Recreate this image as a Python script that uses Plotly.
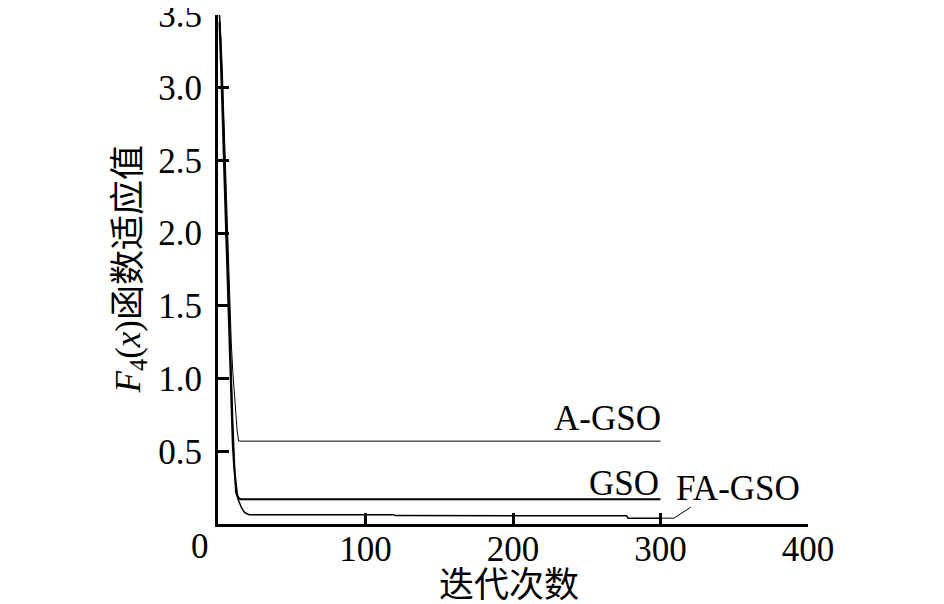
import plotly.graph_objects as go

# iteration counts and fitness values
agso_iter = [1, 2, 3, 4, 5, 6, 7, 8, 9, 10, 11, 12, 13, 14, 300]
agso_val = [3.5, 3.35, 3.1, 2.8, 2.45, 2.1, 1.8, 1.5, 1.25, 1.05, 0.9, 0.75, 0.64, 0.57, 0.57]

gso_iter = [1, 2, 3, 4, 5, 6, 7, 8, 9, 10, 11, 12, 13, 14, 15, 300]
gso_val = [3.45, 3.2, 2.85, 2.5, 2.15, 1.8, 1.45, 1.1, 0.8, 0.55, 0.38, 0.26, 0.2, 0.18, 0.17, 0.17]

fagso_iter = [1, 2, 3, 4, 5, 6, 7, 8, 9, 10, 11, 12, 14, 16, 18, 20, 21, 119, 120, 277, 278, 300]
fagso_val = [3.5, 3.3, 3.0, 2.65, 2.3, 1.95, 1.6, 1.3, 1.0, 0.7, 0.45, 0.22, 0.16, 0.11, 0.08, 0.066, 0.064,
             0.064, 0.058, 0.056, 0.04, 0.04]

x_ticks = [100, 200, 300, 400]
y_ticks = [0.5, 1.0, 1.5, 2.0, 2.5, 3.0, 3.5]

serif = "Liberation Serif"
cjk = "Liberation Serif, Noto Sans CJK SC"
fs = 35

fig = go.Figure()
fig.add_trace(go.Scatter(x=agso_iter, y=agso_val, mode="lines", line=dict(color="black", width=1)))
fig.add_trace(go.Scatter(x=gso_iter, y=gso_val, mode="lines", line=dict(color="black", width=2)))
fig.add_trace(go.Scatter(x=fagso_iter, y=fagso_val, mode="lines", line=dict(color="black", width=1.5)))

# curve labels
fig.add_annotation(x=300, y=0.57, text="A-GSO", showarrow=False, xanchor="right", yanchor="bottom",
                   yshift=1, xshift=2, font=dict(family=serif, size=fs))
fig.add_annotation(x=300, y=0.17, text="GSO", showarrow=False, xanchor="right", yanchor="bottom",
                   yshift=-6, xshift=0, font=dict(family=serif, size=fs))
fig.add_annotation(x=310, y=0.17, text="FA-GSO", showarrow=False, xanchor="left", yanchor="bottom",
                   yshift=-11, xshift=-1, font=dict(family=serif, size=fs))
# leader line to FA-GSO
fig.add_shape(type="path", path="M 300 0.04 L 309 0.04 L 320.5 0.115",
              line=dict(color="black", width=1))
# shared origin label
fig.add_annotation(x=0, y=0, text="0", showarrow=False, xanchor="center", yanchor="middle",
                   xshift=-18, yshift=-22, font=dict(family=serif, size=fs))
# axis titles
fig.add_annotation(x=0.5, y=0, xref="paper", yref="paper", text="迭代次数", showarrow=False,
                   xanchor="center", yanchor="middle", xshift=-4, yshift=-61,
                   font=dict(family=cjk, size=fs))
fig.add_annotation(x=0, y=0.5, xref="paper", yref="paper",
                   text="<i>F</i><sub>4</sub>(<i>x</i>)函数适应值", showarrow=False, textangle=-90,
                   xanchor="center", yanchor="middle", xshift=-88,
                   font=dict(family=cjk, size=fs))

fig.update_layout(
    width=944, height=604,
    margin=dict(l=210, r=144, t=7, b=88),
    plot_bgcolor="white", paper_bgcolor="white",
    showlegend=False,
    font=dict(family=serif, size=fs, color="black"),
    xaxis=dict(range=[0, 400], tickvals=x_ticks, ticks="inside", ticklen=11, tickwidth=2.5,
               tickcolor="black", showline=True, linewidth=3, linecolor="black", showgrid=False,
               zeroline=False, automargin=False, ticklabelstandoff=-8,
               tickfont=dict(family=serif, size=fs)),
    yaxis=dict(range=[0, 3.501], tickvals=y_ticks, tickformat=".1f", ticks="inside", ticklen=11,
               tickwidth=3, tickcolor="black", showline=True, linewidth=3, linecolor="black",
               showgrid=False, zeroline=False, automargin=False, ticklabelstandoff=6,
               ticklabeloverflow="allow", tickfont=dict(family=serif, size=fs)),
)

fig.write_html("out.html")
